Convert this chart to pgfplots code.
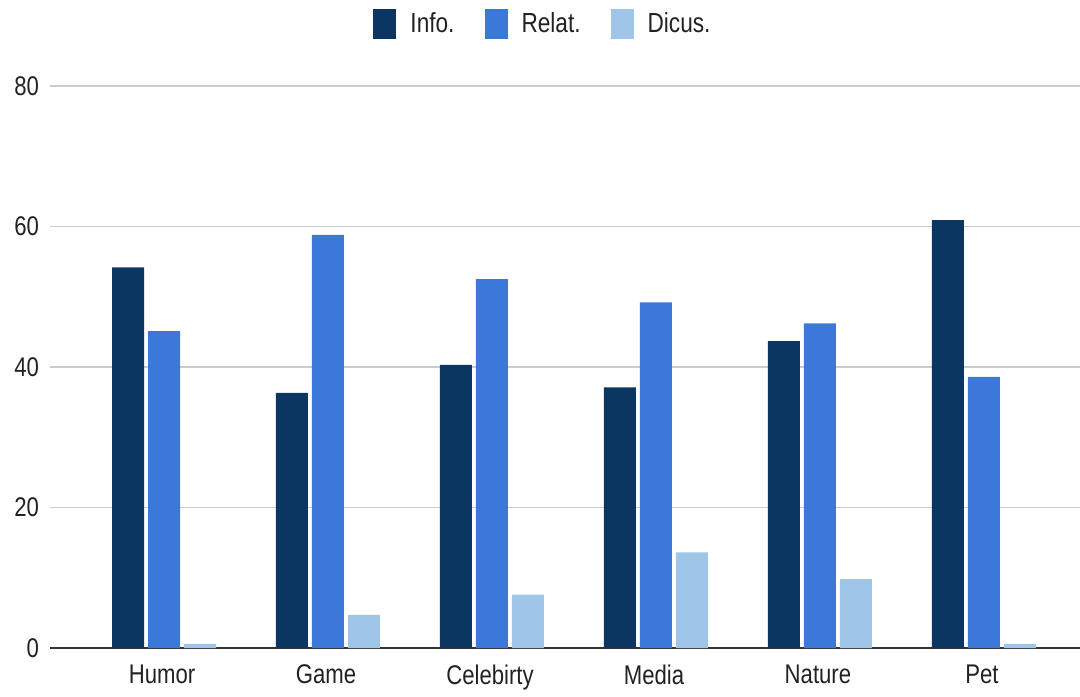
\documentclass[border=0pt]{standalone}
\usepackage{pgfplots}
\pgfplotsset{compat=1.18}
\usepackage{fontspec}
\setmainfont{Liberation Sans}[FakeStretch=0.82]
\definecolor{cInfo}{HTML}{0B3661}
\definecolor{cRelat}{HTML}{3C78D8}
\definecolor{cDicus}{HTML}{9FC5E8}
\definecolor{txt}{HTML}{222222}
\begin{document}
\begin{tikzpicture}[x=1pt,y=1pt]
\useasboundingbox (0,0) rectangle (540,348);
\begin{axis}[
  at={(25pt,24pt)}, anchor=south west,
  scale only axis, width=515pt, height=281pt,
  xmin=-0.683, xmax=5.598, ymin=0, ymax=80,
  ytick={20,40,60,80},
  extra y ticks={0},
  extra y tick style={grid style={draw=black!80, line width=1pt}},
  xtick={0,1,2,3,4,5},
  xticklabels={Humor,Game,Celebirty,Media,Nature,Pet},
  ymajorgrids, grid style={draw=black!20, line width=0.8pt},
  axis line style={draw=none},
  major tick length=0pt,
  /pgf/number format/assume math mode=true,
  ticklabel style={font=\fontsize{13.5}{15}\selectfont, text=txt},
  xticklabel style={yshift=-5pt},
  yticklabel style={xshift=-2pt},
  ybar, bar width=16pt,
  legend style={at={(0.4796,1.11)}, anchor=center, draw=none, fill=none,
    font=\fontsize{13.8}{15}\selectfont, text=txt, legend columns=3,
    /tikz/every even column/.append style={column sep=13pt},
    /tikz/every odd column/.append style={column sep=5pt}},
  legend image code/.code={\fill[#1,draw=none] (0pt,-7.5pt) rectangle (11.5pt,7.5pt);},
  legend cell align=left,
  clip=false,
]
\addplot[fill=cInfo, draw=none, bar shift=-17pt] coordinates {(0,54.2) (1,36.3) (2,40.3) (3,37.1) (4,43.7) (5,60.9)};
\addplot[fill=cRelat, draw=none, bar shift=1pt] coordinates {(0,45.1) (1,58.8) (2,52.5) (3,49.2) (4,46.2) (5,38.6)};
\addplot[fill=cDicus, draw=none, bar shift=19pt] coordinates {(0,0.6) (1,4.7) (2,7.6) (3,13.6) (4,9.8) (5,0.6)};
\legend{Info.,Relat.,Dicus.}
\end{axis}
\end{tikzpicture}
\end{document}
